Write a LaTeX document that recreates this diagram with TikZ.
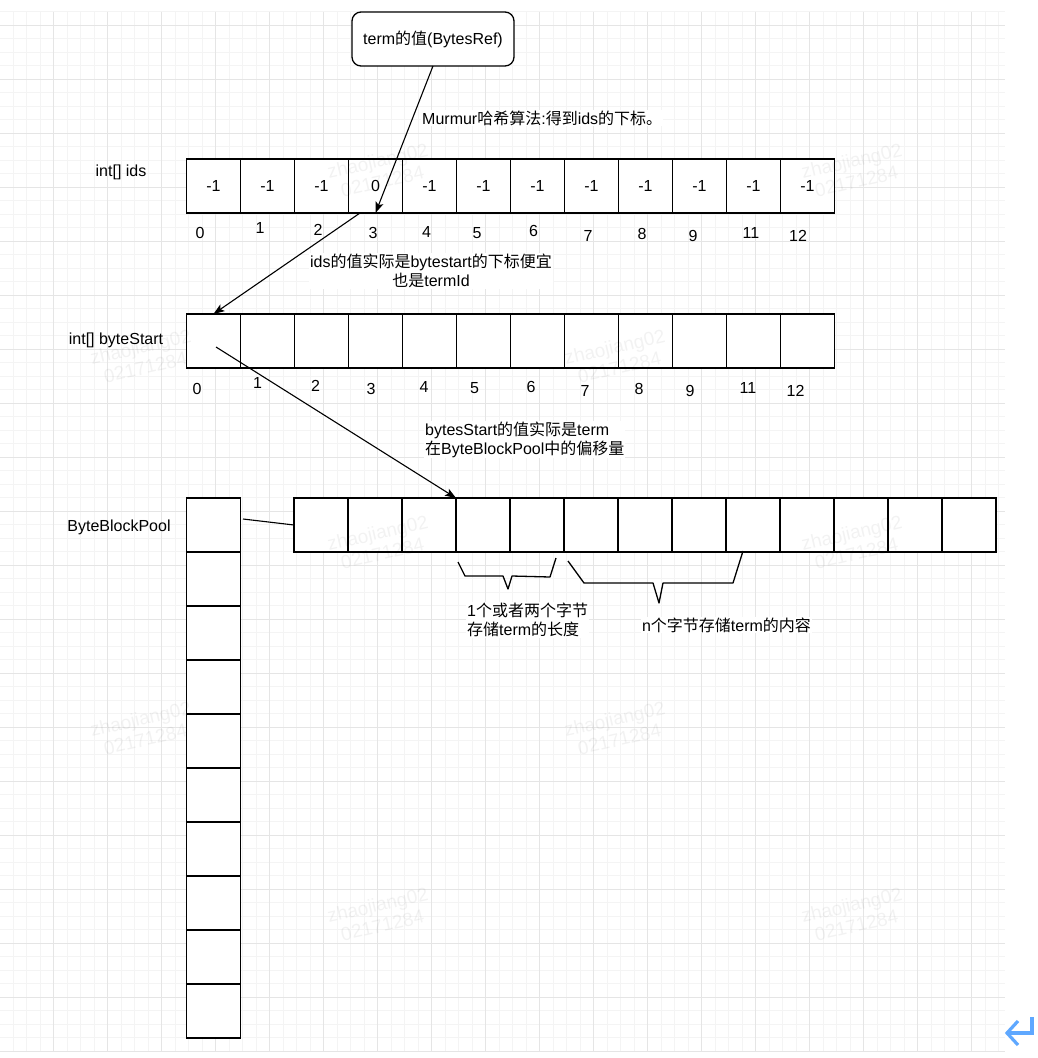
\documentclass[tikz,border=0pt]{standalone}
\usepackage{fontspec}
\setmainfont{Liberation Sans}
\newfontfamily\cjk{Noto Sans CJK SC}
\usetikzlibrary{arrows.meta}
\definecolor{gridminor}{HTML}{F4F4F4}
\definecolor{gridmajor}{HTML}{E5E5E5}
\definecolor{retblue}{HTML}{5FA8FF}
\begin{document}
\begin{tikzpicture}[x=1pt,y=-1pt,
  every node/.style={font=\fontsize{16}{19}\selectfont},
  cell/.style={draw=black, fill=white, line width=1.3pt, minimum width=54pt, minimum height=54pt, inner sep=0pt, outer sep=0pt},
  termbox/.style={draw=black, fill=white, line width=1.3pt, rounded corners=9pt, minimum width=162pt, minimum height=54pt, inner sep=0pt, outer sep=0pt},
  idx/.style={inner sep=0pt},
  lbl/.style={inner sep=1pt},
  elbl/.style={fill=white, inner sep=1pt},
  arr/.style={line width=1.1pt, -{Stealth[length=11pt,width=8pt,inset=2.5pt]}},
  conn/.style={line width=1.1pt},
  bracket/.style={line width=1.3pt, line join=round},
  wmk/.style={text=black, text opacity=0.05, rotate=13, align=center, inner sep=0pt, font=\fontsize{19}{21}\selectfont}]
\useasboundingbox (0,0) rectangle (1038,1058);
\fill[white] (0,0) rectangle (1038,1058);
% background grid
\foreach \k in {0,...,74} \draw[gridminor, line width=1pt] ({-0.5+13.5*\k},11.5) -- ({-0.5+13.5*\k},1051);
\foreach \k in {0,...,77} \draw[gridminor, line width=1pt] (0,{11.5+13.5*\k}) -- (1005,{11.5+13.5*\k});
\foreach \k in {0,...,17} \draw[gridmajor, line width=1pt] ({53.5+54*\k},11.5) -- ({53.5+54*\k},1051);
\foreach \k in {0,...,19} \draw[gridmajor, line width=1pt] (0,{25+54*\k}) -- (1005,{25+54*\k});

% term box
\node[termbox] (term) at (433,39) {term{\cjk 的值}(BytesRef)};

% ids array
\node[lbl] (idslbl) at (121,172) {int[] ids};
\foreach \i/\v in {0/-1,1/-1,2/-1,3/0,4/-1,5/-1,6/-1,7/-1,8/-1,9/-1,10/-1,11/-1}
  \node[cell] (ids\i) at ({213.5+54*\i},186) {\v};
\foreach \n/\x/\y in {0/200/233,1/260/227.5,2/318/230,3/373/233,4/426.5/231.5,5/477/233,6/533.5/231,7/588/236,8/642/234,9/693/236,11/751/233,12/798/236}
  \node[idx] (ia\n) at (\x,\y) {\n};

% byteStart array
\node[lbl] (bslbl) at (116,340) {int[] byteStart};
\foreach \i in {0,...,11}
  \node[cell] (bs\i) at ({213.5+54*\i},341) {};
\foreach \n/\x/\y in {0/197/388.5,1/257.5/383,2/315.5/386,3/371/388.5,4/424/386.5,5/474.5/388.5,6/531/386.5,7/585/391,8/639/389,9/690/391,11/748/388,12/795.5/391}
  \node[idx] (ib\n) at (\x,\y) {\n};

% ByteBlockPool
\node[lbl] (pool) at (119,527) {ByteBlockPool};
\foreach \i in {0,...,9}
  \node[cell] (col\i) at (213.5,{525+54*\i}) {};
\foreach \i in {0,...,12}
  \node[cell] (pool\i) at ({321+54*\i},525) {};

% connectors
\coordinate (a2s) at (360,213);
\coordinate (a3s) at (216,347);
\coordinate (ls) at (243,519);
\draw[arr] (term.south) -- (ids3.south);
\draw[arr] (a2s) -- (bs0.north);
\draw[arr] (a3s) -- (pool3.north west);
\draw[conn] (ls) -- (pool0.west);

% labels
\node[elbl, anchor=west] (murmur) at (421,118) {Murmur{\cjk 哈希算法}:{\cjk 得到}ids{\cjk 的下标。}};
\node[elbl, align=center] (idsnote) at (431,271) {ids{\cjk 的值实际是}bytestart{\cjk 的下标便宜}\\{\cjk 也是}termId};
\node[elbl, align=left, anchor=west] (bsnote) at (424,439.5) {bytesStart{\cjk 的值实际是}term\\{\cjk 在}ByteBlockPool{\cjk 中的偏移量}};

% brackets
\draw[bracket] (458,562) -- (465,576) -- (503,576) -- (508,589) -- (512,576) -- (550,577) -- (556,558);
\draw[bracket] (568,561) -- (584,583) -- (653,583) -- (659,603) -- (663,583) -- (733,583) -- (743,551);
\node[elbl, align=left, anchor=west] (lennote) at (466,620) {1{\cjk 个或者两个字节}\\{\cjk 存储}term{\cjk 的长度}};
\node[elbl] (contnote) at (726.5,625) {n{\cjk 个字节存储}term{\cjk 的内容}};

% return icon
\draw[retblue, line width=3.2pt, line join=miter] (1032,1017) -- (1032,1033) -- (1008,1033);
\draw[retblue, line width=3.2pt] (1018,1021) -- (1007,1033) -- (1018,1045);

% watermarks
\foreach \x/\y [count=\k] in {380/171,854/171,143/357,617/357,380/543,854/543,143/729,617/729,380/915,854/915}
  \node[wmk] (wm\k) at (\x,\y) {zhaojiang02\\02171284};
\end{tikzpicture}
\end{document}
